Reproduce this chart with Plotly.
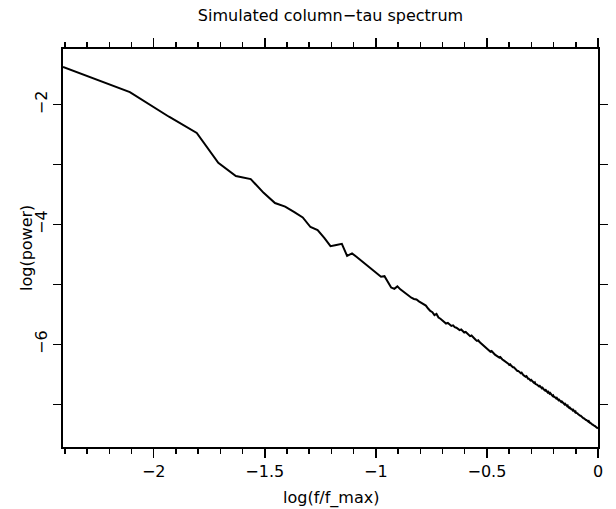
import math
import plotly.graph_objects as go

# frequency index k (f = k * f_min, f_max = 256 * f_min)
freq_index = list(range(1, 257))
n_max = 256

log_power = [
    -1.37, -1.79, -2.20, -2.47, -2.97, -3.19, -3.24, -3.47, -3.64, -3.70,
    -3.79, -3.88, -4.04, -4.09, -4.22, -4.36, -4.34, -4.32, -4.52, -4.48,
    -4.54, -4.60, -4.67, -4.72, -4.77, -4.82, -4.87, -4.86, -4.96, -5.05,
    -5.07, -5.03, -5.08, -5.12, -5.16, -5.19, -5.22, -5.24, -5.25, -5.28,
    -5.30, -5.33, -5.35, -5.40, -5.44, -5.46, -5.51, -5.49, -5.55, -5.57,
    -5.60, -5.62, -5.65, -5.64, -5.67, -5.69, -5.68, -5.71, -5.72, -5.74,
    -5.76, -5.75, -5.78, -5.80, -5.79, -5.81, -5.84, -5.86, -5.85, -5.88,
    -5.90, -5.92, -5.94, -5.93, -5.96, -5.98, -6.00, -6.01, -6.03, -6.05,
    -6.07, -6.09, -6.10, -6.12, -6.11, -6.14, -6.15, -6.17, -6.18, -6.19,
    -6.20, -6.22, -6.21, -6.24, -6.25, -6.26, -6.27, -6.29, -6.30, -6.31,
    -6.32, -6.34, -6.33, -6.35, -6.37, -6.38, -6.38, -6.40, -6.41, -6.43,
    -6.44, -6.44, -6.46, -6.47, -6.48, -6.47, -6.50, -6.51, -6.52, -6.53,
    -6.54, -6.53, -6.56, -6.57, -6.57, -6.59, -6.60, -6.59, -6.61, -6.62,
    -6.63, -6.64, -6.63, -6.66, -6.66, -6.67, -6.68, -6.69, -6.70, -6.69,
    -6.71, -6.72, -6.73, -6.72, -6.75, -6.75, -6.76, -6.77, -6.76, -6.78,
    -6.79, -6.80, -6.79, -6.81, -6.82, -6.81, -6.83, -6.84, -6.85, -6.86,
    -6.85, -6.87, -6.87, -6.88, -6.89, -6.90, -6.89, -6.91, -6.92, -6.93,
    -6.92, -6.94, -6.94, -6.95, -6.96, -6.95, -6.97, -6.98, -6.98, -6.99,
    -7.00, -6.99, -7.01, -7.01, -7.02, -7.03, -7.02, -7.04, -7.05, -7.06,
    -7.05, -7.07, -7.07, -7.08, -7.08, -7.09, -7.10, -7.09, -7.11, -7.12,
    -7.12, -7.13, -7.12, -7.14, -7.14, -7.15, -7.15, -7.16, -7.17, -7.16,
    -7.18, -7.18, -7.19, -7.19, -7.20, -7.19, -7.21, -7.21, -7.22, -7.23,
    -7.23, -7.24, -7.23, -7.25, -7.25, -7.26, -7.26, -7.27, -7.27, -7.28,
    -7.28, -7.29, -7.28, -7.30, -7.30, -7.31, -7.31, -7.32, -7.32, -7.33,
    -7.33, -7.34, -7.34, -7.35, -7.34, -7.35, -7.36, -7.36, -7.37, -7.37,
    -7.38, -7.38, -7.39, -7.39, -7.40, -7.40,
]

x_tick_vals = [-2, -1.5, -1, -0.5, 0]
x_tick_text = ["−2", "−1.5", "−1", "−0.5", "0"]
y_tick_vals = [-7, -6, -5, -4, -3, -2]
y_tick_text = ["", "−6", "", "−4", "", "−2"]

title_text = "Simulated column−tau spectrum"
x_title = "log(f/f_max)"
y_title = "log(power)"

log_freq = [math.log10(k / n_max) for k in freq_index]

FONT = "DejaVu Sans"
W, H = 616, 509
ML, MR, MT, MB = 63, 18, 49, 62

fig = go.Figure()
fig.add_trace(go.Scatter(
    x=log_freq, y=log_power, mode="lines",
    line=dict(color="black", width=2),
    showlegend=False, hoverinfo="skip",
))

fig.update_layout(
    width=W, height=H,
    margin=dict(l=ML, r=MR, t=MT, b=MB, autoexpand=False),
    paper_bgcolor="white", plot_bgcolor="white",
    font=dict(family=FONT, size=16, color="black"),
    title=dict(text=title_text, x=0.5, xref="paper", y=1 - 15 / H,
               yref="container", xanchor="center", yanchor="middle",
               font=dict(family=FONT, size=16, color="black")),
)

fig.update_xaxes(
    range=[math.log10(1 / n_max), 0], automargin=False,
    showgrid=False, zeroline=False,
    showline=True, linecolor="black", linewidth=2, mirror="allticks",
    ticks="outside", ticklen=9, tickwidth=1.5, tickcolor="black",
    tickvals=x_tick_vals, ticktext=x_tick_text,
    tickfont=dict(family=FONT, size=16, color="black"),
    minor=dict(dtick=0.1, tick0=0, ticks="outside", ticklen=5,
               tickwidth=1.5, tickcolor="black", showgrid=False),
)

fig.update_yaxes(
    range=[-7.71, -1.07], automargin=False,
    showgrid=False, zeroline=False,
    showline=True, linecolor="black", linewidth=2, mirror="allticks",
    ticks="outside", ticklen=8, tickwidth=1.5, tickcolor="black",
    tickvals=y_tick_vals, ticktext=y_tick_text, tickangle=-90,
    tickfont=dict(family=FONT, size=16, color="black"),
)

# axis titles placed as paper-anchored annotations
fig.add_annotation(text=x_title, xref="paper", yref="paper", x=0.5,
                   y=-(498 - (H - MB)) / (H - MT - MB), xanchor="center",
                   yanchor="middle", showarrow=False,
                   font=dict(family=FONT, size=16, color="black"))
fig.add_annotation(text=y_title, xref="paper", yref="paper",
                   x=-(ML - 26) / (W - ML - MR), y=0.5, xanchor="center",
                   yanchor="middle", textangle=-90, showarrow=False,
                   font=dict(family=FONT, size=16, color="black"))

fig.write_html(
    "out.html",
    config=dict(displayModeBar=False, staticPlot=True),
    post_script="document.body.style.margin='0';document.body.style.overflow='hidden';",
)
